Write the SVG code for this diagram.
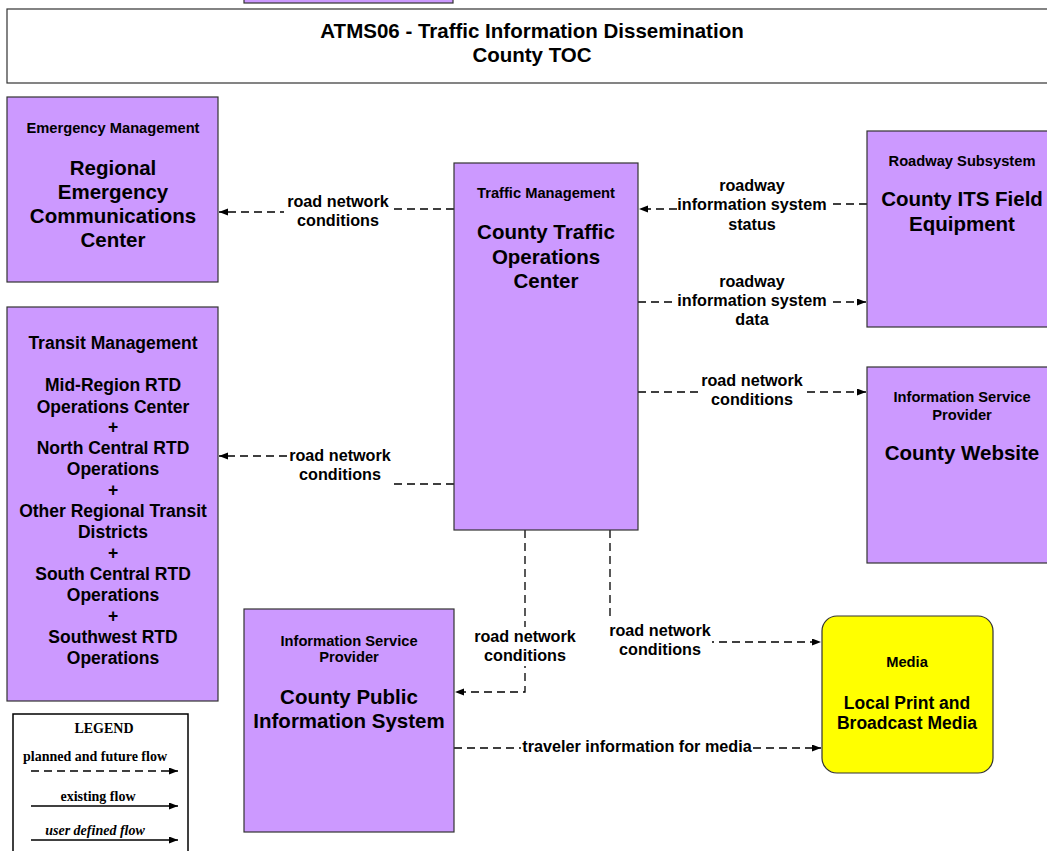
<svg xmlns="http://www.w3.org/2000/svg" width="1047" height="851" viewBox="0 0 1047 851">
<style>
.box{fill:#CC99FF;stroke:#333;stroke-width:1.2}
.media{fill:#FFFF00;stroke:#333;stroke-width:1.2}
text{font-family:"Liberation Sans",Arial,sans-serif;font-weight:bold;fill:#000;text-anchor:middle}
.cat{font-size:14.7px}
.name{font-size:20.5px}
.tr{font-size:17.5px}
.lbl{font-size:16.2px}
.flow{fill:none;stroke:#000;stroke-width:1.3;stroke-dasharray:8,5;marker-end:url(#arr)}
.solid{fill:none;stroke:#000;stroke-width:1.3;marker-end:url(#arr)}
.mask{fill:#fff;stroke:none}
.leg{font-family:"Liberation Serif","Times New Roman",serif;font-size:14px}
</style>
<defs>
<marker id="arr" markerUnits="userSpaceOnUse" markerWidth="10" markerHeight="8" refX="9" refY="3.5" orient="auto">
<path d="M0,0 L9,3.5 L0,7 z" fill="#000"/>
</marker>
</defs>
<rect width="1047" height="851" fill="#fff"/>
<rect class="box" x="244" y="-5" width="209" height="8"/>
<g id="title">
<rect x="7" y="9" width="1045" height="74" fill="#fff" stroke="#333" stroke-width="1.2"/>
<text x="532" y="38" font-size="20.5px">ATMS06 - Traffic Information Dissemination</text>
<text x="532" y="62" font-size="20.5px">County TOC</text>
</g>
<g id="connectors">
<path class="flow" d="M454,209 L338,209 L338,212 L219,212"/>
<rect class="mask" x="284" y="192" width="107" height="38"/>
<text class="lbl" x="338" y="207">road network</text>
<text class="lbl" x="338" y="226">conditions</text>

<path class="flow" d="M867,204 L752,204 L752,209 L639,209"/>
<rect class="mask" x="677" y="196" width="152" height="18"/>
<text class="lbl" x="752" y="191">roadway</text>
<text class="lbl" x="752" y="210">information system</text>
<text class="lbl" x="752" y="230">status</text>

<path class="flow" d="M638,302 L866,302"/>
<rect class="mask" x="677" y="293" width="152" height="18"/>
<text class="lbl" x="752" y="287">roadway</text>
<text class="lbl" x="752" y="306">information system</text>
<text class="lbl" x="752" y="325">data</text>

<path class="flow" d="M638,392 L866,392"/>
<rect class="mask" x="700" y="372" width="106" height="38"/>
<text class="lbl" x="752" y="386">road network</text>
<text class="lbl" x="752" y="405">conditions</text>

<path class="flow" d="M454,484 L340,484 L340,456 L219,456"/>
<rect class="mask" x="288" y="447" width="104" height="43"/>
<text class="lbl" x="340" y="461">road network</text>
<text class="lbl" x="340" y="480">conditions</text>

<path class="flow" d="M525,530 L525,692 L455,692"/>
<rect class="mask" x="473" y="627" width="104" height="39"/>
<text class="lbl" x="525" y="642">road network</text>
<text class="lbl" x="525" y="661">conditions</text>

<path class="flow" d="M610,530 L610,642 L821,642"/>
<rect class="mask" x="607" y="621" width="105" height="39"/>
<text class="lbl" x="660" y="636">road network</text>
<text class="lbl" x="660" y="655">conditions</text>

<path class="flow" d="M454,748 L821,748"/>
<rect class="mask" x="521" y="739" width="231" height="18"/>
<text class="lbl" x="637" y="752">traveler information for media</text>
</g>
<g id="emergency">
<rect class="box" x="7" y="97" width="211" height="185"/>
<text class="cat" x="113" y="133">Emergency Management</text>
<text class="name" x="113" y="175">Regional</text>
<text class="name" x="113" y="199">Emergency</text>
<text class="name" x="113" y="223">Communications</text>
<text class="name" x="113" y="247">Center</text>
</g>
<g id="transit">
<rect class="box" x="7" y="307" width="211" height="394"/>
<text class="tr" x="113" y="349">Transit Management</text>
<text class="tr" x="113" y="391">Mid-Region RTD</text>
<text class="tr" x="113" y="413">Operations Center</text>
<text class="tr" x="113" y="433">+</text>
<text class="tr" x="113" y="454">North Central RTD</text>
<text class="tr" x="113" y="475">Operations</text>
<text class="tr" x="113" y="496">+</text>
<text class="tr" x="113" y="517">Other Regional Transit</text>
<text class="tr" x="113" y="538">Districts</text>
<text class="tr" x="113" y="559">+</text>
<text class="tr" x="113" y="580">South Central RTD</text>
<text class="tr" x="113" y="601">Operations</text>
<text class="tr" x="113" y="622">+</text>
<text class="tr" x="113" y="643">Southwest RTD</text>
<text class="tr" x="113" y="664">Operations</text>
</g>
<g id="toc">
<rect class="box" x="454" y="163" width="184" height="367"/>
<text class="cat" x="546" y="198">Traffic Management</text>
<text class="name" x="546" y="239">County Traffic</text>
<text class="name" x="546" y="264">Operations</text>
<text class="name" x="546" y="288">Center</text>
</g>
<g id="fieldequip">
<rect class="box" x="867" y="131" width="195" height="196"/>
<text class="cat" x="962" y="166">Roadway Subsystem</text>
<text class="name" x="962" y="206">County ITS Field</text>
<text class="name" x="962" y="231">Equipment</text>
</g>
<g id="website">
<rect class="box" x="867" y="367" width="195" height="196"/>
<text class="cat" x="962" y="402">Information Service</text>
<text class="cat" x="962" y="420">Provider</text>
<text class="name" x="962" y="460">County Website</text>
</g>
<g id="publicinfo">
<rect class="box" x="244" y="609" width="210" height="223"/>
<text class="cat" x="349" y="646">Information Service</text>
<text class="cat" x="349" y="662">Provider</text>
<text class="name" x="349" y="704">County Public</text>
<text class="name" x="349" y="728">Information System</text>
</g>
<g id="media">
<rect class="media" x="822" y="616" width="171" height="157" rx="15" ry="15"/>
<text class="cat" x="907" y="667">Media</text>
<text x="907" y="709" font-size="17.5px">Local Print and</text>
<text x="907" y="729" font-size="17.5px">Broadcast Media</text>
</g>
<g id="legend">
<rect x="13" y="714" width="175" height="150" fill="#fff" stroke="#000" stroke-width="1.5"/>
<text class="leg" x="104" y="733">LEGEND</text>
<text class="leg" x="95" y="761">planned and future flow</text>
<path class="flow" d="M31,771 L178,771" stroke-dasharray="6,4"/>
<text class="leg" x="98" y="801">existing flow</text>
<path class="solid" d="M31,806 L178,806"/>
<text class="leg" x="95" y="835" font-style="italic">user defined flow</text>
<path class="solid" d="M31,840 L178,840"/>
</g>
</svg>
